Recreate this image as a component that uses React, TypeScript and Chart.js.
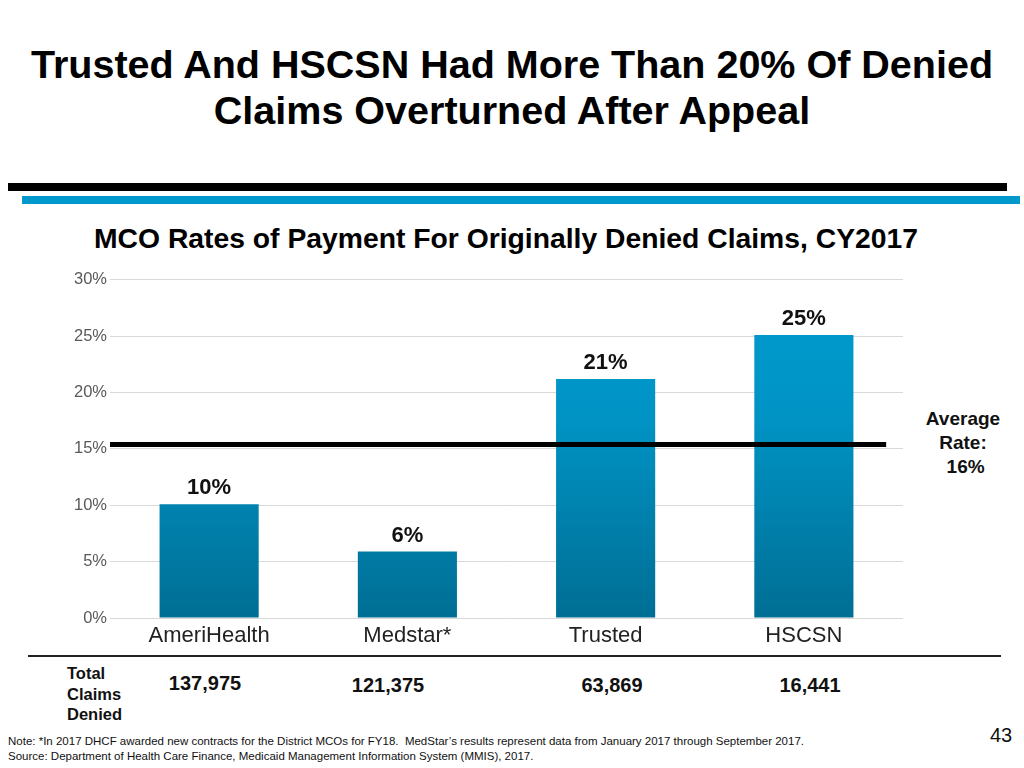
import { useEffect, useRef } from 'react';
import Chart from 'chart.js/auto';

// ============= DATA =============
const plans = ['AmeriHealth', 'Medstar*', 'Trusted', 'HSCSN'];
const paymentRates = [10.1, 5.9, 21.2, 25.1];
const rateLabels = ['10%', '6%', '21%', '25%'];
const averageRate = 15.4;
const claimsDenied = ['137,975', '121,375', '63,869', '16,441'];
const yTicks = [0, 5, 10, 15, 20, 25, 30];

const FONT = '"Liberation Sans", Arial, sans-serif';

// ============= BAR CHART =============
const RatesChart = () => {
    const chartRef = useRef<HTMLCanvasElement>(null);
    const chartInstance = useRef<Chart | null>(null);

    useEffect(() => {
        if (!chartRef.current) return;
        if (chartInstance.current) chartInstance.current.destroy();
        const ctx = chartRef.current.getContext('2d');
        if (!ctx) return;

        // value labels above bars + average line
        const overlay = {
            id: 'overlay',
            afterDatasetsDraw(chart: any) {
                const c = chart.ctx;
                const x = chart.scales.x;
                const y = chart.scales.y;
                const meta = chart.getDatasetMeta(0);
                c.save();
                c.fillStyle = '#111';
                c.font = `bold 22px ${FONT}`;
                c.textAlign = 'center';
                c.textBaseline = 'bottom';
                meta.data.forEach((bar: any, i: number) => {
                    c.fillText(rateLabels[i], bar.x, bar.y - 5);
                });
                // average line
                const yy = y.getPixelForValue(averageRate);
                const step = x.getPixelForValue(1) - x.getPixelForValue(0);
                c.strokeStyle = '#000';
                c.lineWidth = 5;
                c.beginPath();
                c.moveTo(chart.chartArea.left, yy);
                c.lineTo(x.getPixelForValue(plans.length - 1) + step * 0.415, yy);
                c.stroke();
                c.restore();
            }
        };

        chartInstance.current = new Chart(ctx, {
            type: 'bar',
            data: {
                labels: plans,
                datasets: [{
                    data: paymentRates,
                    backgroundColor: (context: any) => {
                        const area = context.chart.chartArea;
                        if (!area) return '#0090c0';
                        const g = context.chart.ctx.createLinearGradient(0, area.top, 0, area.bottom);
                        g.addColorStop(0, '#009ace');
                        g.addColorStop(0.4, '#0094c5');
                        g.addColorStop(1, '#006e94');
                        return g;
                    },
                    borderWidth: 0,
                    barPercentage: 0.5,
                    categoryPercentage: 1
                }]
            },
            options: {
                responsive: true,
                maintainAspectRatio: false,
                animation: false,
                layout: { padding: { top: 10, right: 0, left: 0, bottom: 0 } },
                plugins: {
                    legend: { display: false },
                    tooltip: { enabled: false }
                },
                scales: {
                    x: {
                        grid: { display: false },
                        border: { display: false },
                        ticks: {
                            color: '#222',
                            font: { family: FONT, size: 22 },
                            padding: -3
                        },
                        afterFit: (scale: any) => { scale.height = 30; }
                    },
                    y: {
                        min: 0,
                        max: 30,
                        afterBuildTicks: (scale: any) => {
                            scale.ticks = yTicks.map(v => ({ value: v }));
                        },
                        grid: { color: '#d9d9d9', lineWidth: 1, drawTicks: false },
                        border: { display: false },
                        ticks: {
                            color: '#595959',
                            font: { family: FONT, size: 16.5 },
                            padding: 3,
                            callback: (v: any) => `${v}%`
                        },
                        afterFit: (scale: any) => { scale.width = 50; }
                    }
                }
            },
            plugins: [overlay]
        });

        return () => {
            if (chartInstance.current) {
                chartInstance.current.destroy();
                chartInstance.current = null;
            }
        };
    }, []);

    return (
        <div style={{ position: 'absolute', left: 60, top: 267, width: 843, height: 381 }}>
            <canvas ref={chartRef}></canvas>
        </div>
    );
};

// ============= SLIDE =============
const claimX = [205, 388, 612, 810];

export default function App() {
    return (
        <div style={{
            position: 'fixed', left: 0, top: 0, width: 1024, height: 768,
            background: '#fff', fontFamily: FONT, overflow: 'hidden'
        }}>
            <div style={{
                position: 'absolute', left: 0, top: 41, width: 1024, textAlign: 'center',
                fontWeight: 'bold', fontSize: 39.5, lineHeight: '46px', color: '#000'
            }}>
                Trusted And HSCSN Had More Than 20% Of Denied<br />Claims Overturned After Appeal
            </div>
            <div style={{ position: 'absolute', left: 8, top: 183, width: 999, height: 8, background: '#000' }} />
            <div style={{ position: 'absolute', left: 22, top: 196, width: 998, height: 8, background: '#0099cc' }} />
            <div style={{
                position: 'absolute', left: 0, top: 221, width: 1012, textAlign: 'center',
                fontWeight: 'bold', fontSize: 28.3, lineHeight: '34px', color: '#000'
            }}>
                MCO Rates of Payment For Originally Denied Claims, CY2017
            </div>

            <RatesChart />

            <div style={{
                position: 'absolute', left: 903, top: 407, width: 120, textAlign: 'center',
                fontWeight: 'bold', fontSize: 19, lineHeight: '24px', color: '#111'
            }}>
                Average<br />Rate:<br />&nbsp;16%
            </div>

            <div style={{ position: 'absolute', left: 28, top: 655, width: 973, height: 2, background: '#222' }} />
            <div style={{
                position: 'absolute', left: 67, top: 663, fontWeight: 'bold', fontSize: 16.5,
                lineHeight: '20.5px', color: '#111'
            }}>
                Total<br />Claims<br />Denied
            </div>
            {claimsDenied.map((c, i) => (
                <div key={c} style={{
                    position: 'absolute', left: claimX[i] - 60, top: i === 0 ? 672 : 674, width: 120,
                    textAlign: 'center', fontWeight: 'bold', fontSize: 20, color: '#111'
                }}>{c}</div>
            ))}

            <div style={{
                position: 'absolute', left: 8, top: 734, fontSize: 11.5, lineHeight: '15px', color: '#111'
            }}>
                Note: *In 2017 DHCF awarded new contracts for the District MCOs for FY18.&nbsp; MedStar’s results represent data from January 2017 through September 2017.<br />
                Source: Department of Health Care Finance, Medicaid Management Information System (MMIS), 2017.
            </div>
            <div style={{ position: 'absolute', left: 990, top: 724, fontSize: 20, color: '#111' }}>43</div>
        </div>
    );
}
